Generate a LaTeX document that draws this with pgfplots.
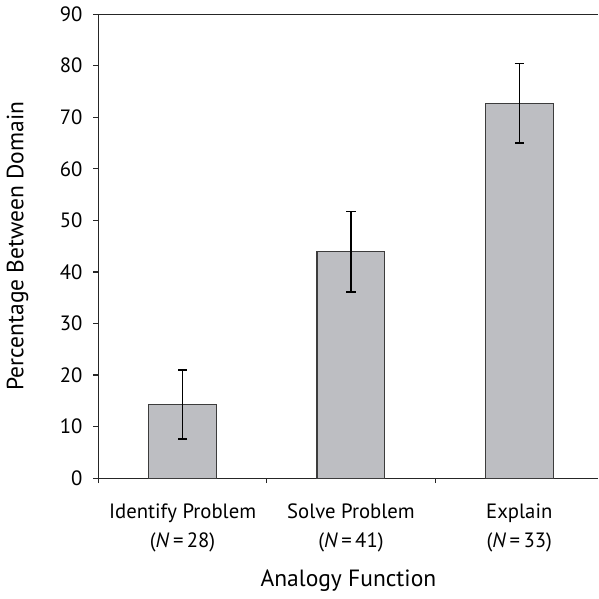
\documentclass[border=0pt]{standalone}
\usepackage{pgfplots}
\pgfplotsset{compat=1.18}
\usepackage{fontspec}
\setmainfont{PT Sans}
\definecolor{barfill}{RGB}{189,190,194}
\definecolor{baredge}{RGB}{60,60,60}
\begin{document}
\fontsize{10pt}{12pt}\selectfont
\begin{tikzpicture}
\begin{axis}[
  scale only axis,
  width=251pt, height=233pt,
  xmin=-0.5, xmax=2.47,
  ymin=0, ymax=90,
  ytick={0,10,...,90},
  axis x line=box,
  axis y line*=left,
  axis line style={line width=0.6pt, black!85},
  xtick={0,1,2},
  xticklabels={{Identify Problem\\(\textit{N}\,=\,28)},{Solve Problem\\(\textit{N}\,=\,41)},{Explain\\(\textit{N}\,=\,33)}},
  xticklabel style={align=center, font=\fontsize{10.4pt}{14.5pt}\selectfont},
  major x tick style={draw=none},
  minor xtick={-0.5,0.5,1.5},
  minor tick length=2.5pt,
  xtick pos=bottom,
  ytick pos=left,
  tick align=outside,
  major tick length=2.5pt,
  tick style={line width=0.6pt, black!85},
  /pgf/number format/assume math mode=true,
  ticklabel style={font=\fontsize{10.4pt}{12pt}\selectfont},
  yticklabel style={xshift=-2pt},
  xticklabel style={yshift=-7pt},
  xlabel={Analogy Function},
  ylabel={Percentage Between Domain},
  xlabel style={yshift=-2pt},
  ylabel style={yshift=9pt},
  label style={font=\fontsize{11.8pt}{12pt}\selectfont},
  clip=false,
]
\addplot[ybar, bar width=34pt, bar shift=0pt, fill=barfill, draw=baredge, line width=0.6pt,
  error bars/.cd, y dir=both, y explicit,
  error bar style={line width=0.6pt, black},
  error mark options={rotate=90, mark size=2.3pt, line width=0.6pt, black}]
  coordinates {
  (0,14.3) +- (0,6.7)
  (1,43.9) +- (0,7.8)
  (2,72.7) +- (0,7.7)
  };
\end{axis}
\end{tikzpicture}
\end{document}
